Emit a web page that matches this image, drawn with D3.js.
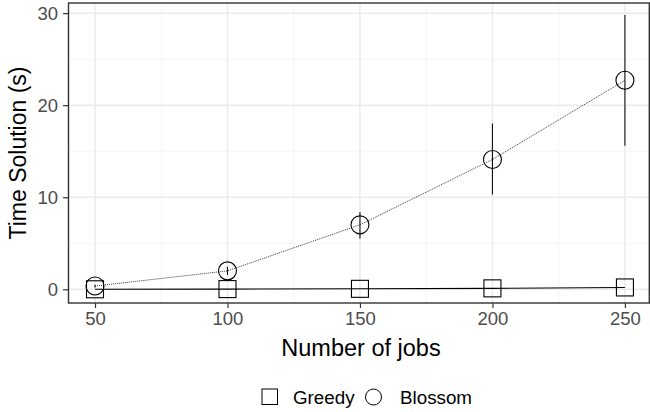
<!DOCTYPE html>
<html>
<head>
<meta charset="utf-8">
<script src="https://cdn.jsdelivr.net/npm/d3@7"></script>
<style>
  body { margin: 0; background: #fff; }
  text { font-family: "Liberation Sans", Arial, sans-serif; }
</style>
</head>
<body>
<div id="chart"></div>
<script>
const jobs = [50, 100, 150, 200, 250];
const greedy = [0.0, 0.02, 0.05, 0.1, 0.2];
const blossom = [0.35, 2.0, 7.0, 14.1, 22.7];
const blossomLow = [0.2, 1.55, 5.5, 10.3, 15.6];
const blossomHigh = [0.5, 2.45, 8.4, 18.0, 29.8];
const xTicks = [50, 100, 150, 200, 250];
const yTicks = [0, 10, 20, 30];
const seriesNames = ['Greedy', 'Blossom'];

const width = 650, height = 412;
const pLeft = 68.5, pRight = 649.3, pTop = 3, pBottom = 303;

const x = d3.scaleLinear().domain([40, 259.2]).range([pLeft, pRight]);
const y = d3.scaleLinear().domain([-1.49, 31.1]).range([pBottom, pTop]);

const svg = d3.select('#chart')
    .append('svg')
    .attr('width', width)
    .attr('height', height);

// grid
const grid = svg.append('g');
const xMinor = [75, 125, 175, 225];
const yMinor = [5, 15, 25];
grid.selectAll('.xminor').data(xMinor).enter().append('line')
    .attr('x1', d => x(d)).attr('x2', d => x(d))
    .attr('y1', pTop).attr('y2', pBottom)
    .attr('stroke', '#f2f2f2').attr('stroke-width', 0.8);
grid.selectAll('.yminor').data(yMinor).enter().append('line')
    .attr('x1', pLeft).attr('x2', pRight)
    .attr('y1', d => y(d)).attr('y2', d => y(d))
    .attr('stroke', '#f2f2f2').attr('stroke-width', 0.8);
grid.selectAll('.xmajor').data(xTicks).enter().append('line')
    .attr('x1', d => x(d)).attr('x2', d => x(d))
    .attr('y1', pTop).attr('y2', pBottom)
    .attr('stroke', '#ebebeb').attr('stroke-width', 1.5);
grid.selectAll('.ymajor').data(yTicks).enter().append('line')
    .attr('x1', pLeft).attr('x2', pRight)
    .attr('y1', d => y(d)).attr('y2', d => y(d))
    .attr('stroke', '#ebebeb').attr('stroke-width', 1.5);

// lines
const line = d3.line().x(d => x(d[0])).y(d => y(d[1]));
svg.append('path')
    .datum(jobs.map((j, i) => [j, greedy[i]]))
    .attr('d', line)
    .attr('fill', 'none')
    .attr('stroke', '#000')
    .attr('stroke-width', 1.1);
svg.append('path')
    .datum(jobs.map((j, i) => [j, blossom[i]]))
    .attr('d', line)
    .attr('fill', 'none')
    .attr('stroke', '#222')
    .attr('stroke-width', 0.9)
    .attr('stroke-dasharray', '1,1');

// error bars
svg.selectAll('.err').data(jobs).enter().append('line')
    .attr('x1', d => x(d)).attr('x2', d => x(d))
    .attr('y1', (d, i) => y(blossomLow[i]))
    .attr('y2', (d, i) => y(blossomHigh[i]))
    .attr('stroke', '#111')
    .attr('stroke-width', 1.1);

// points
const sq = 17;
svg.selectAll('.sq').data(jobs).enter().append('rect')
    .attr('x', d => x(d) - sq / 2)
    .attr('y', (d, i) => y(greedy[i]) - sq / 2)
    .attr('width', sq).attr('height', sq)
    .attr('fill', 'none')
    .attr('stroke', '#000')
    .attr('stroke-width', 1.1);
svg.selectAll('.circ').data(jobs).enter().append('circle')
    .attr('cx', d => x(d))
    .attr('cy', (d, i) => y(blossom[i]))
    .attr('r', 9)
    .attr('fill', 'none')
    .attr('stroke', '#000')
    .attr('stroke-width', 1.1);

// panel border
svg.append('rect')
    .attr('x', pLeft).attr('y', pTop)
    .attr('width', pRight - pLeft).attr('height', pBottom - pTop)
    .attr('fill', 'none')
    .attr('stroke', '#333')
    .attr('stroke-width', 1.4);

// axes
const xAxis = svg.append('g')
    .attr('transform', `translate(0,${pBottom})`)
    .call(d3.axisBottom(x).tickValues(xTicks).tickSize(5).tickPadding(4));
const yAxis = svg.append('g')
    .attr('transform', `translate(${pLeft},0)`)
    .call(d3.axisLeft(y).tickValues(yTicks).tickSize(5.5).tickPadding(5));
[xAxis, yAxis].forEach(a => {
    a.select('.domain').remove();
    a.selectAll('.tick line').attr('stroke', '#333').attr('stroke-width', 1.2);
    a.selectAll('.tick text')
        .attr('fill', '#4d4d4d')
        .style('font-size', '18.5px')
        .style('font-family', '"Liberation Sans", Arial, sans-serif');
});

// titles
svg.append('text')
    .attr('x', 361)
    .attr('y', 356)
    .attr('text-anchor', 'middle')
    .style('font-size', '23.5px')
    .text('Number of jobs');
svg.append('text')
    .attr('transform', `translate(26,${(pTop + pBottom) / 2}) rotate(-90)`)
    .attr('text-anchor', 'middle')
    .style('font-size', '23px')
    .text('Time Solution (s)');

// legend
const legend = svg.append('g').attr('transform', 'translate(0,397)');
legend.append('rect')
    .attr('x', 262).attr('y', -8)
    .attr('width', 15.5).attr('height', 15.5)
    .attr('fill', 'none').attr('stroke', '#000').attr('stroke-width', 1);
legend.append('text')
    .attr('x', 293).attr('y', 6.5)
    .style('font-size', '18.8px')
    .text(seriesNames[0]);
legend.append('circle')
    .attr('cx', 373.5).attr('cy', 0)
    .attr('r', 8)
    .attr('fill', 'none').attr('stroke', '#000').attr('stroke-width', 1);
legend.append('text')
    .attr('x', 400).attr('y', 6.5)
    .style('font-size', '18.8px')
    .text(seriesNames[1]);
</script>
</body>
</html>
